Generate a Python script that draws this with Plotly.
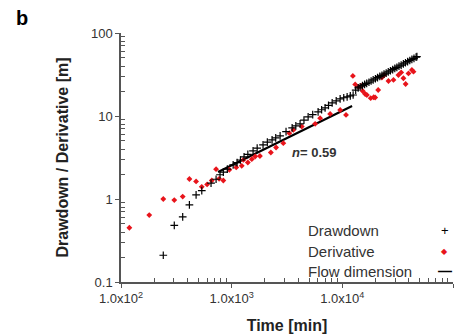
import plotly.graph_objects as go

# Drawdown (black crosses)
dd_time = [241, 303, 361, 415, 477, 537, 651, 723, 785, 841, 914,
           1031, 1120, 1200, 1294, 1400, 1561, 1700, 1921, 2100, 2318, 2500, 2740,
           3100, 3518, 3800, 4152, 4500, 4908, 5400, 6040, 6500, 6985, 7500, 8090,
           8800, 9550, 10300, 11050, 11800, 12520, 13200,
           13900, 14500, 15200, 15900, 16600, 17400, 18200, 19000, 19900, 20800,
           21800, 22800, 23800, 24900, 26000, 27200, 28500, 29800, 31100, 32500,
           34000, 35600, 37200, 38900, 40700, 42500, 44400, 46400, 47200]
dd_value = [0.21, 0.48, 0.61, 0.85, 1.12, 1.26, 1.55, 1.73, 1.96, 2.11, 2.29,
            2.58, 2.75, 2.95, 3.22, 3.45, 3.80, 4.10, 4.49, 4.85, 5.16, 5.45, 5.76,
            6.50, 7.19, 7.60, 8.04, 8.90, 9.75, 10.4, 11.2, 11.9, 12.5, 13.4, 14.4,
            15.2, 16.1, 16.6, 17.0, 17.5, 17.9, 20.5,
            21.8, 22.5, 23.2, 24.0, 24.7, 25.5, 26.4, 27.2, 28.1, 29.0,
            30.0, 30.9, 31.9, 32.9, 34.0, 35.1, 36.3, 37.4, 38.6, 39.8,
            41.1, 42.4, 43.8, 45.2, 46.6, 48.1, 49.6, 51.2, 51.9]

# Derivative (red diamonds)
der_time = [119, 180, 241, 303, 361, 415, 477, 537, 600, 661, 723, 770, 841, 953,
            1100, 1233, 1276, 1400, 1520, 1630, 1800, 2260, 2520, 2930, 3320, 3610,
            4300, 5680, 6300, 7760, 9560, 10800,
            12450, 13070, 13990, 14800, 15260, 16070, 16660, 18040, 19200, 19800,
            21080, 22760, 23880, 26120, 28980, 32140, 34020, 35650, 37330, 39600,
            42500, 43950]
der_value = [0.45, 0.64, 1.00, 0.97, 1.07, 1.74, 1.63, 1.40, 1.50, 1.67, 2.29, 1.75, 1.67, 2.25,
             2.40, 2.51, 2.96, 2.75, 3.02, 3.25, 3.30, 3.63, 4.17, 4.71, 6.21, 6.80,
             7.45, 8.04, 9.41, 10.6, 11.8, 10.3,
             30.4, 24.0, 22.4, 23.0, 20.0, 18.4, 17.9, 16.4, 16.8, 16.7,
             20.6, 29.1, 31.2, 26.4, 27.2, 31.2, 33.5, 28.5, 24.3, 32.6,
             35.9, 34.2]

# Flow dimension fit line
flow_time = [753, 12250]
flow_value = [2.12, 13.2]

x_tickvals = [1e2, 1e3, 1e4, 1e5]
x_ticktext = ["1.0x10<sup>2</sup>", "1.0x10<sup>3</sup>", "1.0x10<sup>4</sup>", "1.0x10<sup>5</sup>"]
y_tickvals = [0.1, 1, 10, 100]
y_ticktext = ["0.1", "1", "10", "100"]

FONT = "Arial, Liberation Sans, sans-serif"
AX = "#555555"
TXT = "#333333"

minor_x = [m * 10 ** d for d in (2, 3, 4) for m in range(2, 10)]
minor_y = [m * 10 ** d for d in (-1, 0, 1) for m in range(2, 10)]

fig = go.Figure()
fig.add_trace(go.Scatter(x=flow_time, y=flow_value, mode="lines",
                         line=dict(color="black", width=2.2), name="Flow dimension",
                         showlegend=False))
fig.add_trace(go.Scatter(x=der_time, y=der_value, mode="markers",
                         marker=dict(symbol="diamond", size=4.5, color="#e8141b"),
                         name="Derivative", showlegend=False))
fig.add_trace(go.Scatter(x=dd_time, y=dd_value, mode="markers",
                         marker=dict(symbol="cross-thin", size=5.5,
                                     line=dict(color="black", width=1.2)),
                         name="Drawdown", showlegend=False))

fig.update_layout(
    width=475, height=336,
    margin=dict(l=121, r=22, t=33, b=54),
    paper_bgcolor="white", plot_bgcolor="white",
    font=dict(family=FONT, color=TXT, size=12),
    xaxis=dict(type="log", range=[2, 5], tickvals=x_tickvals, ticktext=x_ticktext,
               automargin=False,
               showgrid=False, zeroline=False, showline=True, linecolor=AX, linewidth=1.5,
               ticks="outside", ticklen=4, tickwidth=1.2, tickcolor=AX,
               tickfont=dict(size=13, color=TXT),
               minor=dict(tickvals=minor_x, ticks="inside", ticklen=4, tickwidth=1,
                          tickcolor=AX, showgrid=False),
               title=dict(text="<b>Time [min]</b>", font=dict(size=16, color="#222222"),
                          standoff=14)),
    yaxis=dict(type="log", range=[-1, 2], tickvals=y_tickvals, ticktext=y_ticktext,
               automargin=False,
               showgrid=False, zeroline=False, showline=True, linecolor=AX, linewidth=1.5,
               ticks="outside", ticklen=4, tickwidth=1.2, tickcolor=AX,
               tickfont=dict(size=13, color=TXT),
               minor=dict(tickvals=minor_y, ticks="inside", ticklen=4, tickwidth=1,
                          tickcolor=AX, showgrid=False),
               title=dict(text="<b>Drawdown / Derivative [m]</b>",
                          font=dict(size=16, color="#222222"), standoff=18)),
)

annotations = [
    dict(x=-0.322, y=1.06, xref="paper", yref="paper", xanchor="left", yanchor="middle",
         text="<b>b</b>", font=dict(size=20, color="black")),
    dict(x=0.509, y=0.522, xref="paper", yref="paper", xanchor="left", yanchor="middle",
         text="<b><i>n</i>= 0.59</b>", font=dict(size=13, color=TXT)),
    dict(x=0.556, y=0.205, xref="paper", yref="paper", xanchor="left", yanchor="middle",
         text="Drawdown", font=dict(size=15, color=TXT)),
    dict(x=0.556, y=0.124, xref="paper", yref="paper", xanchor="left", yanchor="middle",
         text="Derivative", font=dict(size=15, color=TXT)),
    dict(x=0.556, y=0.044, xref="paper", yref="paper", xanchor="left", yanchor="middle",
         text="Flow dimension", font=dict(size=15, color=TXT)),
    dict(x=0.975, y=0.205, xref="paper", yref="paper", xanchor="center", yanchor="middle",
         text="+", font=dict(size=13, color="black")),
    dict(x=0.975, y=0.124, xref="paper", yref="paper", xanchor="center", yanchor="middle",
         text="◆", font=dict(size=8, color="#e8141b")),
    dict(x=0.975, y=0.044, xref="paper", yref="paper", xanchor="center", yanchor="middle",
         text="<b>—</b>", font=dict(size=14, color="black")),
]
fig.update_layout(annotations=[dict(a, showarrow=False) for a in annotations])

fig.write_html("out.html")
